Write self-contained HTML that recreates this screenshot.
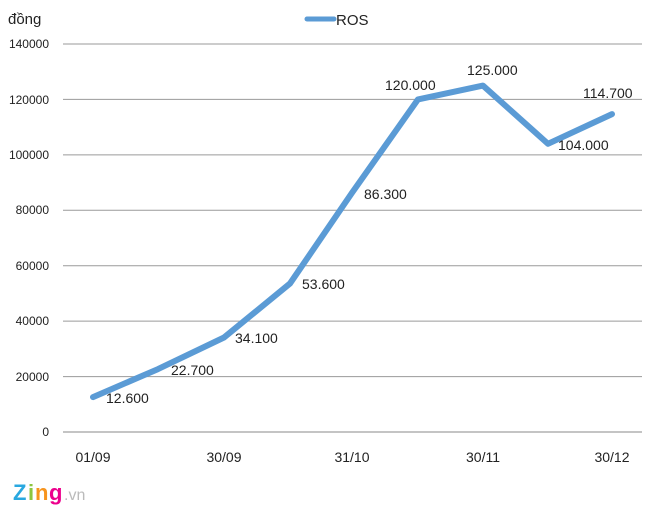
<!DOCTYPE html>
<html><head><meta charset="utf-8"><style>
html,body{margin:0;padding:0;background:#fff;}
svg{display:block;}
text{font-family:"Liberation Sans",sans-serif;fill:#222;}
</style></head><body>
<svg width="660" height="514" viewBox="0 0 660 514">
<text x="8" y="24" font-size="15">đồng</text>
<line x1="307" y1="19" x2="334" y2="19" stroke="#5b9bd5" stroke-width="5" stroke-linecap="round"/>
<text x="336" y="25" font-size="15">ROS</text>
<g stroke="#9a9a9a" stroke-width="1">
<line x1="63" y1="44" x2="642" y2="44"/>
<line x1="63" y1="99.4" x2="642" y2="99.4"/>
<line x1="63" y1="154.9" x2="642" y2="154.9"/>
<line x1="63" y1="210.3" x2="642" y2="210.3"/>
<line x1="63" y1="265.7" x2="642" y2="265.7"/>
<line x1="63" y1="321.1" x2="642" y2="321.1"/>
<line x1="63" y1="376.6" x2="642" y2="376.6"/>
<line x1="63" y1="432" x2="642" y2="432" stroke="#888"/>
</g>
<g font-size="12" text-anchor="end">
<text x="49" y="48">140000</text>
<text x="49" y="104">120000</text>
<text x="49" y="159">100000</text>
<text x="49" y="214">80000</text>
<text x="49" y="270">60000</text>
<text x="49" y="325">40000</text>
<text x="49" y="381">20000</text>
<text x="49" y="436">0</text>
</g>
<g font-size="14" text-anchor="middle">
<text x="93" y="462">01/09</text>
<text x="224" y="462">30/09</text>
<text x="352" y="462">31/10</text>
<text x="483" y="462">30/11</text>
<text x="612" y="462">30/12</text>
</g>
<polyline fill="none" stroke="#5b9bd5" stroke-width="6" stroke-linecap="round" stroke-linejoin="round"
points="93,397.1 158,369.1 224,337.5 290,283.5 352,192.8 418,99.4 483,85.6 548,143.8 612,114.1"/>
<g font-size="14">
<text x="106" y="403">12.600</text>
<text x="171" y="375">22.700</text>
<text x="235" y="343">34.100</text>
<text x="302" y="289">53.600</text>
<text x="364" y="199">86.300</text>
<text x="385" y="90">120.000</text>
<text x="467" y="75">125.000</text>
<text x="558" y="150">104.000</text>
<text x="583" y="98">114.700</text>
</g>
<g font-family="Liberation Sans,sans-serif" font-weight="bold" font-size="22">
<text x="13" y="500" style="fill:#29a8e0">Z</text>
<text x="28" y="500" style="fill:#8cc63f">i</text>
<text x="35" y="500" style="fill:#f7941d">n</text>
<text x="49" y="500" style="fill:#ec008c">g</text>
</g>
<text x="64" y="500" font-size="16" style="fill:#bbb">.vn</text>
</svg>
</body></html>
